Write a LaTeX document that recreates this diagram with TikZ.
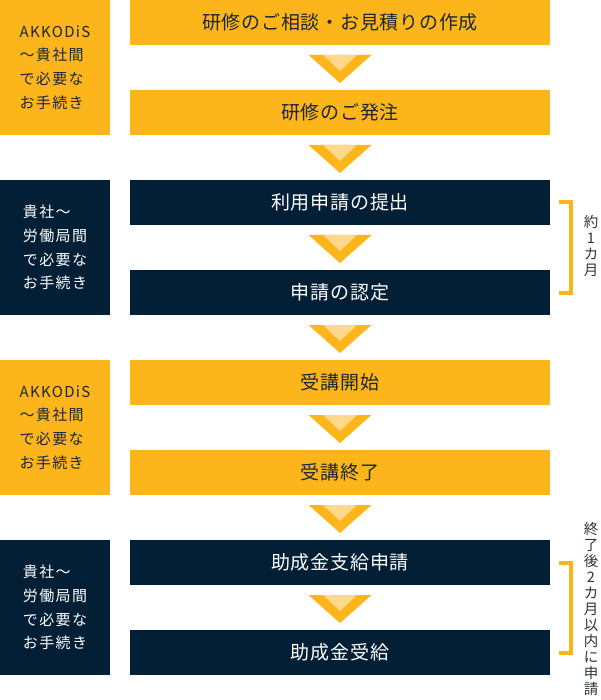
\documentclass[tikz,border=0pt]{standalone}
\usepackage{fontspec}
\setmainfont{Noto Sans CJK JP}
\usetikzlibrary{calc}
\definecolor{org}{HTML}{FCB51B}
\definecolor{lorg}{HTML}{FFD98B}
\definecolor{navy}{HTML}{031F36}
\definecolor{ink}{HTML}{1C2736}
\definecolor{side}{HTML}{2A3440}
\tikzset{
  mainbox/.style={minimum width=420pt, minimum height=45pt, inner sep=0pt, outer sep=0pt,
    font=\fontsize{19}{22}\selectfont\addfontfeature{LetterSpace=4}},
  sidebox/.style={minimum width=110pt, minimum height=135pt, inner sep=0pt, outer sep=0pt, align=left,
    font=\fontsize{15}{23.8}\selectfont\addfontfeature{LetterSpace=9}},
  orgbox/.style={fill=org, text=ink},
  navybox/.style={fill=navy, text=white},
  vtext/.style={align=center, text=side, inner sep=0pt, font=\fontsize{14.5}{16}\selectfont},
  brk/.style={draw=org, line width=4pt, line join=miter}
}
\newcommand{\chev}[1]{%
  \fill[org] ($(#1.south)+(-31.5,10)$) -- ($(#1.south)+(31.5,10)$) -- ($(#1.south)+(0,38)$) -- cycle;
  \fill[lorg] ($(#1.south)+(-17,10)$) -- ($(#1.south)+(17,10)$) -- ($(#1.south)+(0,26)$) -- cycle;}
\begin{document}
\begin{tikzpicture}[x=1pt,y=-1pt]
\useasboundingbox (0,0) rectangle (600,700);
% side boxes
\node[sidebox, orgbox] (l1) at (55,67.5) {AKKODiS\\～貴社間\\で必要な\\お手続き};
\node[sidebox, navybox] (l2) at (55,247.5) {貴社～\\労働局間\\で必要な\\お手続き};
\node[sidebox, orgbox] (l3) at (55,427.5) {AKKODiS\\～貴社間\\で必要な\\お手続き};
\node[sidebox, navybox] (l4) at (55,607.5) {貴社～\\労働局間\\で必要な\\お手続き};
% main boxes
\node[mainbox, orgbox] (s1) at (340,22.5) {研修のご相談・お見積りの作成};
\node[mainbox, orgbox] (s2) at (340,112.5) {研修のご発注};
\node[mainbox, navybox] (s3) at (340,202.5) {利用申請の提出};
\node[mainbox, navybox] (s4) at (340,292.5) {申請の認定};
\node[mainbox, orgbox] (s5) at (340,382.5) {受講開始};
\node[mainbox, orgbox] (s6) at (340,472.5) {受講終了};
\node[mainbox, navybox] (s7) at (340,562.5) {助成金支給申請};
\node[mainbox, navybox] (s8) at (340,652.5) {助成金受給};
% chevrons
\chev{s1}\chev{s2}\chev{s3}\chev{s4}\chev{s5}\chev{s6}\chev{s7}
% brackets
\draw[brk] ($(s3.east)+(9,0)$) -- ($(s3.east)+(21,0)$) -- ($(s4.east)+(21,0)$) -- ($(s4.east)+(9,0)$);
\draw[brk] ($(s7.east)+(9,0)$) -- ($(s7.east)+(21,0)$) -- ($(s8.east)+(21,0)$) -- ($(s8.east)+(9,0)$);
% vertical labels
\node[vtext] (v1) at (591,246) {約\\1\\カ\\月};
\node[vtext] (v2) at (591,609) {終\\了\\後\\2\\カ\\月\\以\\内\\に\\申\\請};
\end{tikzpicture}
\end{document}
